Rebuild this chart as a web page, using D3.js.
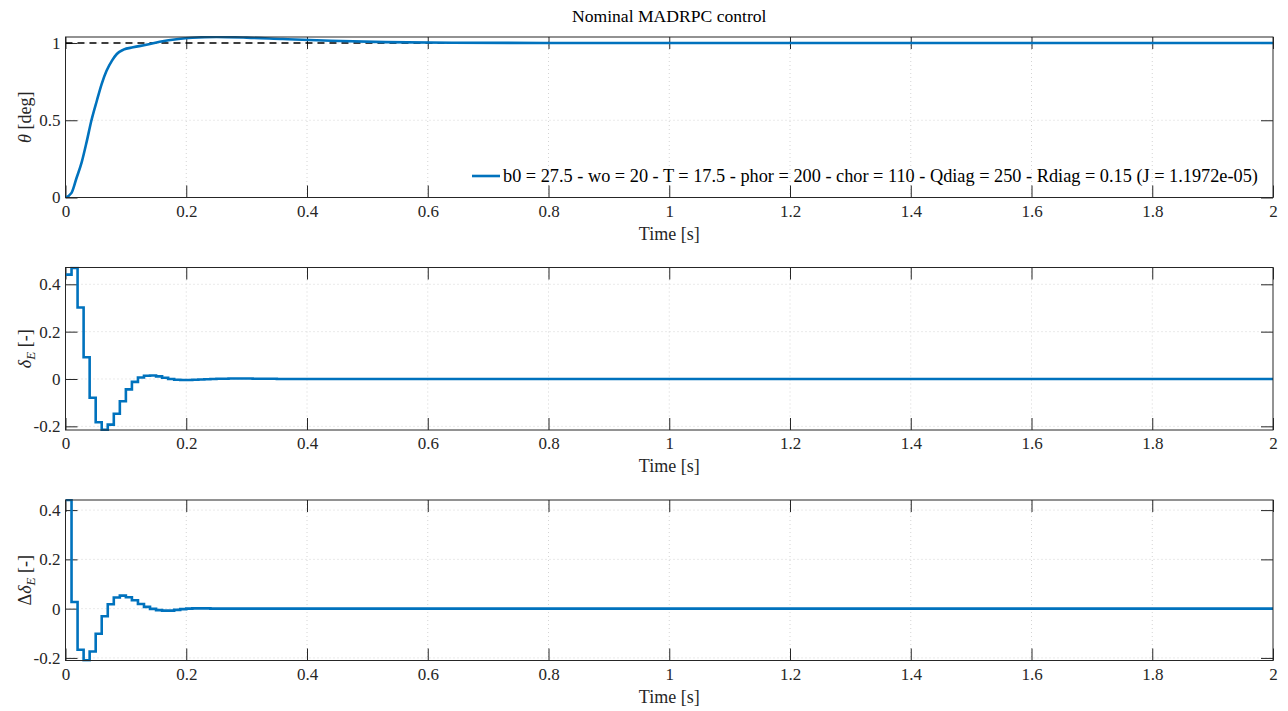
<!DOCTYPE html>
<html>
<head>
<meta charset="utf-8">
<script src="https://cdn.jsdelivr.net/npm/d3@7"></script>
<style>
  body { margin: 0; background: #fff; }
  svg, svg text { font-family: "Liberation Serif", "DejaVu Serif", "Times New Roman", serif; }
  .grid line { stroke: #d4d4d4; stroke-dasharray: 1,3; stroke-width: 1; }
  .ax text { font-size: 17px; fill: #262626; font-family: "Liberation Serif", "DejaVu Serif", serif; }
  .ax line { stroke: #262626; }
  .ax path { display: none; }
</style>
</head>
<body>
<svg id="chart" width="1288" height="711"></svg>
<script>
// theta response (continuous)
let thetaTime = [0, 0.01, 0.018, 0.027, 0.035, 0.043, 0.052, 0.06, 0.068, 0.077, 0.085, 0.096, 0.112, 0.134, 0.156, 0.187, 0.21, 0.25, 0.3, 0.36, 0.44, 0.53, 0.64, 0.8, 2];
let thetaValue = [0, 0.03, 0.123, 0.231, 0.36, 0.5, 0.628, 0.736, 0.82, 0.886, 0.929, 0.957, 0.972, 0.989, 1.008, 1.026, 1.034, 1.039, 1.035, 1.026, 1.015, 1.006, 1.002, 1.0, 1.0];
let reference = 1;

// sampled signals, Ts = 0.01 s, held until next sample
let sampleTime = 0.01;
let deltaE = [0.441, 0.469, 0.302, 0.092, -0.079, -0.183, -0.215, -0.193, -0.147, -0.094,
              -0.044, -0.012, 0.006, 0.014, 0.015, 0.011, 0.005, 0.000, -0.003, -0.004,
              -0.004, -0.003, -0.002, -0.001, 0.000, 0.001, 0.001, 0.002, 0.002, 0.002,
              0.002, 0.001, 0.001, 0.001, 0.001, 0.000];
let deltaDeltaE = [0.441, 0.027, -0.167, -0.210, -0.174, -0.102, -0.031, 0.018, 0.045, 0.053,
                   0.046, 0.034, 0.019, 0.007, -0.001, -0.006, -0.008, -0.008, -0.005, -0.002,
                   0.000, 0.001, 0.001, 0.001, 0.000];

let xTicks = [0, 0.2, 0.4, 0.6, 0.8, 1, 1.2, 1.4, 1.6, 1.8, 2];
let legendText = "b0 = 27.5 - wo = 20 - T = 17.5 - phor = 200 - chor = 110 - Qdiag = 250 - Rdiag = 0.15 (J = 1.1972e-05)";

let blue = "#0072BD";
let left = 65.5, right = 1273;

let panels = [
    { top: 37, bottom: 197.5, domain: [0, 1.039], ticks: [0, 0.5, 1] },
    { top: 267.5, bottom: 430, domain: [-0.2155, 0.471], ticks: [-0.2, 0, 0.2, 0.4] },
    { top: 500, bottom: 660.5, domain: [-0.2105, 0.441], ticks: [-0.2, 0, 0.2, 0.4] },
];

let svg = d3.select("#chart");
let x = d3.scaleLinear().domain([0, 2]).range([left, right]);

function stepData(values) {
    let pts = values.map((v, i) => [i * sampleTime, v]);
    pts.push([2, values[values.length - 1]]);
    return pts;
}

panels.forEach((p, i) => {
    let y = d3.scaleLinear().domain(p.domain).range([p.bottom, p.top]);
    let g = svg.append("g");

    // grid
    g.append("g").attr("class", "grid")
        .selectAll("line").data(xTicks.slice(1, -1)).enter().append("line")
        .attr("x1", (d) => x(d)).attr("x2", (d) => x(d))
        .attr("y1", p.top).attr("y2", p.bottom);
    g.append("g").attr("class", "grid")
        .selectAll("line").data(p.ticks).enter().append("line")
        .attr("x1", left).attr("x2", right)
        .attr("y1", (d) => y(d)).attr("y2", (d) => y(d));

    // axes, ticks inward on all sides
    let fmt = (d) => (d < 0 ? "-" : "") + Math.abs(d);
    g.append("g").attr("class", "ax").attr("transform", `translate(0,${p.bottom})`)
        .call(d3.axisBottom(x).tickValues(xTicks).tickSize(-12).tickPadding(7).tickFormat(fmt));
    g.append("g").attr("class", "ax").attr("transform", `translate(0,${p.top})`)
        .call(d3.axisTop(x).tickValues(xTicks).tickSize(-12).tickFormat(""));
    g.append("g").attr("class", "ax").attr("transform", `translate(${left},0)`)
        .call(d3.axisLeft(y).tickValues(p.ticks).tickSize(-12).tickPadding(5).tickFormat(fmt));
    g.append("g").attr("class", "ax").attr("transform", `translate(${right},0)`)
        .call(d3.axisRight(y).tickValues(p.ticks).tickSize(-12).tickFormat(""));
    g.selectAll(".ax").attr("font-family", null);

    g.append("defs").append("clipPath").attr("id", "clip" + i)
        .append("rect").attr("x", left).attr("y", p.top - 1)
        .attr("width", right - left).attr("height", p.bottom - p.top + 2);

    let plot = g.append("g").attr("clip-path", `url(#clip${i})`);

    if (i === 0) {
        plot.append("line")
            .attr("x1", x(0)).attr("x2", x(2))
            .attr("y1", y(reference)).attr("y2", y(reference))
            .attr("stroke", "#000").attr("stroke-width", 1.4)
            .attr("stroke-dasharray", "7,5");
        let line = d3.line().x((d) => x(d[0])).y((d) => y(d[1])).curve(d3.curveMonotoneX);
        plot.append("path")
            .datum(thetaTime.map((t, k) => [t, thetaValue[k]]))
            .attr("d", line).attr("fill", "none")
            .attr("stroke", blue).attr("stroke-width", 2.6);
    } else {
        let vals = i === 1 ? deltaE : deltaDeltaE;
        let line = d3.line().x((d) => x(d[0])).y((d) => y(d[1])).curve(d3.curveStepAfter);
        plot.append("path")
            .datum(stepData(vals))
            .attr("d", line).attr("fill", "none")
            .attr("stroke", blue).attr("stroke-width", 2.6);
    }

    // box
    g.append("rect").attr("x", left).attr("y", p.top)
        .attr("width", right - left).attr("height", p.bottom - p.top)
        .attr("fill", "none").attr("stroke", "#262626").attr("stroke-width", 1);

    // x label
    g.append("text").attr("x", (left + right) / 2).attr("y", p.bottom + 42)
        .attr("text-anchor", "middle").attr("font-size", 18).attr("fill", "#262626")
        .text("Time [s]");

    // y label
    let yl = g.append("text")
        .attr("transform", `translate(31,${(p.top + p.bottom) / 2}) rotate(-90)`)
        .attr("text-anchor", "middle").attr("font-size", 18).attr("fill", "#262626");
    if (i === 0) {
        yl.append("tspan").attr("font-style", "italic").text("θ");
        yl.append("tspan").text(" [deg]");
    } else {
        if (i === 2) yl.append("tspan").text("Δ");
        yl.append("tspan").attr("font-style", "italic").text("δ");
        yl.append("tspan").attr("font-style", "italic").attr("font-size", 13).attr("dy", 4).text("E");
        yl.append("tspan").attr("dy", -4).text(" [-]");
    }

    if (i === 0) {
        let lg = g.append("g");
        lg.append("line").attr("x1", 472).attr("x2", 500)
            .attr("y1", 176).attr("y2", 176)
            .attr("stroke", blue).attr("stroke-width", 2.6);
        lg.append("text").attr("x", 503).attr("y", 182)
            .attr("font-size", 18.3).attr("fill", "#000")
            .text(legendText);
    }
});

svg.append("text").attr("x", (left + right) / 2).attr("y", 22)
    .attr("text-anchor", "middle").attr("font-size", 17.6).attr("fill", "#000")
    .text("Nominal MADRPC control");
</script>
</body>
</html>
